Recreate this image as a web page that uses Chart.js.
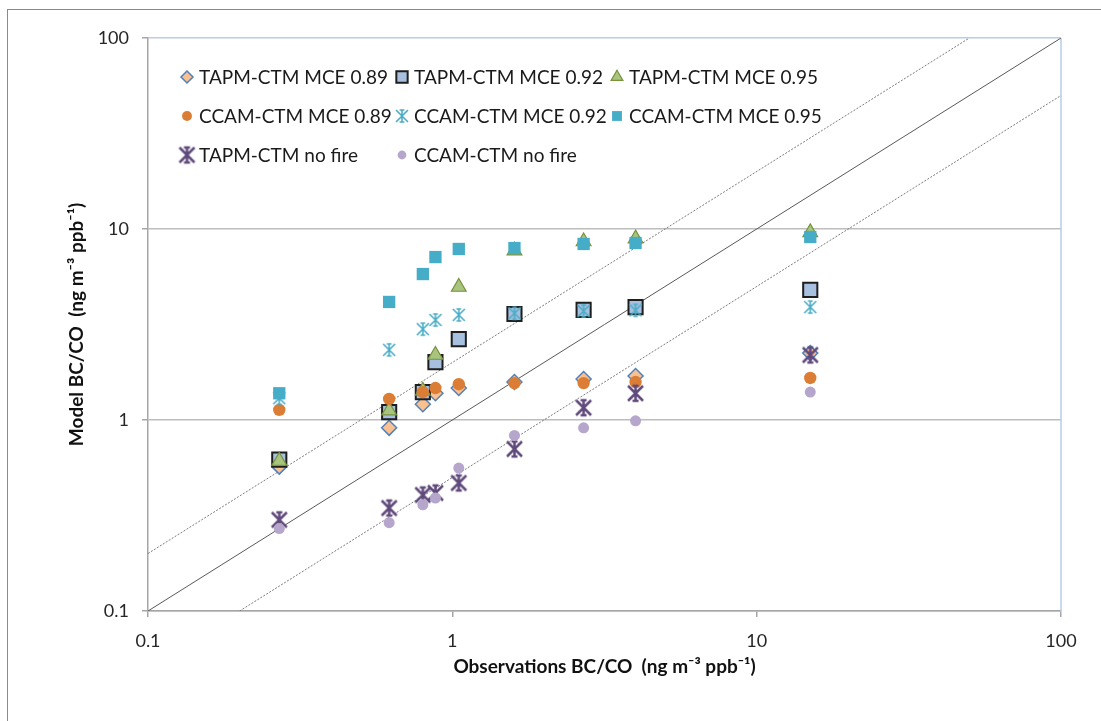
<!DOCTYPE html>
<html>
<head>
<meta charset="utf-8">
<script src="https://cdn.jsdelivr.net/npm/chart.js@4.4.1/dist/chart.umd.min.js"></script>
<style>
  html, body { margin: 0; padding: 0; background: #fff; }
  #wrap { position: relative; width: 1101px; height: 721px; overflow: hidden; }
  #frame { position: absolute; left: 7px; top: 9px; width: 1200px; height: 800px;
           border-left: 1.5px solid #8a8a8a; border-top: 1.5px solid #8a8a8a; }
  #bcChart { position: absolute; left: 0; top: 0; }
</style>
</head>
<body>
<div id="wrap">
  <div id="frame"></div>
  <canvas id="bcChart" width="1101" height="721"></canvas>
</div>
<script>
// observations (x) shared by all series
const obsX = [0.27, 0.62, 0.8, 0.88, 1.05, 1.6, 2.7, 4.0, 15];

// model values
const tapm089 = [0.57, 0.91, 1.21, 1.38, 1.47, 1.58, 1.64, 1.70, 2.24];
const tapm092 = [0.62, 1.10, 1.40, 2.01, 2.65, 3.59, 3.77, 3.90, 4.80];
const tapm095 = [0.61, 1.12, 1.42, 2.19, 4.97, 7.70, 8.60, 8.90, 9.60];
const ccam089 = [1.13, 1.29, 1.40, 1.47, 1.54, 1.56, 1.56, 1.58, 1.66];
const ccam092 = [1.30, 2.33, 2.99, 3.34, 3.55, 3.62, 3.72, 3.75, 3.90];
const ccam095 = [1.38, 4.15, 5.81, 7.13, 7.86, 7.95, 8.35, 8.45, 9.08];
const tapmNoFire = [0.30, 0.346, 0.405, 0.415, 0.468, 0.705, 1.16, 1.38, 2.19];
const ccamNoFire = [0.27, 0.29, 0.36, 0.39, 0.56, 0.83, 0.91, 0.99, 1.40];

const seriesNames = [
  'TAPM-CTM MCE 0.89', 'TAPM-CTM MCE 0.92', 'TAPM-CTM MCE 0.95',
  'CCAM-CTM MCE 0.89', 'CCAM-CTM MCE 0.92', 'CCAM-CTM MCE 0.95',
  'TAPM-CTM no fire', 'CCAM-CTM no fire'
];

// 1:1, 2:1 and 1:2 reference lines (end points)
const lineOneToOne = [[0.1, 0.1], [100, 100]];
const lineTwoToOne = [[0.1, 0.2], [50, 100]];
const lineOneToTwo = [[0.2, 0.1], [100, 50]];

const tickValues = [0.1, 1, 10, 100];
const tickLabels = ['0.1', '1', '10', '100'];

const xTitle = 'Observations BC/CO  (ng m\u207B\u00B3 ppb\u207B\u00B9)';
const yTitle = 'Model BC/CO  (ng m\u207B\u00B3 ppb\u207B\u00B9)';

// Excel style "star" marker: X + vertical bar with caps
function starMarker(size, color, lw) {
  const pad = Math.ceil(lw) + 1;
  const c = document.createElement('canvas');
  c.width = c.height = size + pad * 2;
  const g = c.getContext('2d');
  const m = c.width / 2, h = size / 2;
  g.strokeStyle = color;
  g.lineWidth = lw;
  g.lineCap = 'butt';
  g.beginPath();
  g.moveTo(m - h, m - h); g.lineTo(m + h, m + h);
  g.moveTo(m + h, m - h); g.lineTo(m - h, m + h);
  g.moveTo(m, m - h); g.lineTo(m, m + h);
  g.moveTo(m - h * 0.4, m - h); g.lineTo(m + h * 0.4, m - h);
  g.moveTo(m - h * 0.4, m + h); g.lineTo(m + h * 0.4, m + h);
  g.stroke();
  return c;
}

const toPoints = ys => obsX.map((x, i) => ({ x: x, y: ys[i] }));
const toLine = pts => pts.map(p => ({ x: p[0], y: p[1] }));

const tealStar = starMarker(12, '#4BACC6', 1.6);
const purpleStar = starMarker(15, '#604A7B', 2.5);

const pointSets = [
  { data: tapm089, pointStyle: 'rectRot', radius: 7.5, bg: '#FAC090', border: '#4F81BD', bw: 1.5 },
  { data: tapm092, pointStyle: 'rect', radius: 10, bg: '#A7C0E0', border: '#1E1E1E', bw: 2 },
  { data: tapm095, pointStyle: 'triangle', radius: 8.5, bg: '#A9C47F', border: '#77933C', bw: 1.2 },
  { data: ccam089, pointStyle: 'circle', radius: 6.2, bg: '#DB7D34', border: '#DB7D34', bw: 0 },
  { data: ccam092, pointStyle: tealStar, radius: 7, bg: '#4BACC6', border: '#4BACC6', bw: 0 },
  { data: ccam095, pointStyle: 'rect', radius: 8.7, bg: '#45ADC8', border: '#45ADC8', bw: 0 },
  { data: tapmNoFire, pointStyle: purpleStar, radius: 8, bg: '#604A7B', border: '#604A7B', bw: 0 },
  { data: ccamNoFire, pointStyle: 'circle', radius: 5.5, bg: '#B7A6CC', border: '#B7A6CC', bw: 0 }
];

const datasets = pointSets.map((s, i) => ({
  label: seriesNames[i],
  data: toPoints(s.data),
  showLine: false,
  pointStyle: s.pointStyle,
  pointRadius: s.radius,
  pointHoverRadius: s.radius,
  backgroundColor: s.bg,
  borderColor: s.border,
  pointBorderWidth: s.bw,
  borderWidth: s.bw,
  order: 20 - i,
  legendSlot: i
}));

const refLine = (pts, dash, color) => ({
  label: '',
  data: toLine(pts),
  showLine: true,
  pointRadius: 0,
  borderColor: color,
  borderWidth: 1,
  borderDash: dash,
  fill: false,
  order: 50
});
datasets.push(refLine(lineOneToOne, [], '#595959'));
datasets.push(refLine(lineTwoToOne, [2, 1.5], '#7A7A7A'));
datasets.push(refLine(lineOneToTwo, [2, 1.5], '#7A7A7A'));

const frameLines = {
  id: 'frameLines',
  beforeDatasetsDraw(chart) {
    const { ctx, chartArea } = chart;
    ctx.save();
    ctx.strokeStyle = '#B9CDE5';
    ctx.lineWidth = 1.5;
    ctx.beginPath();
    ctx.moveTo(chartArea.right, chartArea.top);
    ctx.lineTo(chartArea.right, chartArea.bottom);
    ctx.stroke();
    ctx.restore();
  }
};

const insideLegend = {
  id: 'insideLegend',
  afterDatasetsDraw(chart) {
    const { ctx, chartArea } = chart;
    ctx.save();
    ctx.font = '19px Lato';
    ctx.textBaseline = 'middle';
    ctx.textAlign = 'left';
    chart.data.datasets.forEach(ds => {
      if (ds.legendSlot === undefined) return;
      const col = ds.legendSlot % 3;
      const row = Math.floor(ds.legendSlot / 3);
      const x = chartArea.left + 39 + col * 215;
      const y = chartArea.top + 39 + row * 39;
      ctx.fillStyle = ds.backgroundColor;
      ctx.strokeStyle = ds.borderColor;
      ctx.lineWidth = ds.pointBorderWidth;
      Chart.helpers.drawPoint(ctx, {
        pointStyle: ds.pointStyle,
        radius: ds.pointRadius * 0.8,
        rotation: 0,
        borderWidth: ds.pointBorderWidth
      }, x, y);
      ctx.fillStyle = '#1a1a1a';
      ctx.fillText(ds.label, x + 12, y + 1);
    });
    ctx.restore();
  }
};

const tickFont = { family: 'Lato', size: 18 };
const titleFont = { family: 'Lato', size: 19, weight: 'bold' };

new Chart(document.getElementById('bcChart'), {
  type: 'scatter',
  data: { datasets: datasets },
  options: {
    responsive: false,
    devicePixelRatio: 1,
    animation: false,
    layout: { padding: { top: 38, right: 40, bottom: 0, left: 0 } },
    plugins: { legend: { display: false }, tooltip: { enabled: false } },
    scales: {
      x: {
        type: 'logarithmic',
        position: 'bottom',
        min: 0.1,
        max: 100,
        afterBuildTicks: s => { s.ticks = tickValues.map(v => ({ value: v })); },
        afterFit: s => { s.height = 110; },
        grid: { drawOnChartArea: false, drawTicks: true, tickLength: 6, color: '#A6A6A6', lineWidth: 1.5 },
        border: { color: '#A6A6A6', width: 1.5 },
        ticks: {
          autoSkip: false, maxRotation: 0, padding: 13, color: '#262626', font: tickFont,
          callback: v => tickLabels[tickValues.indexOf(v)]
        },
        title: { display: true, text: xTitle, color: '#111', font: titleFont, padding: { top: 0, bottom: 43 } }
      },
      y: {
        type: 'logarithmic',
        position: 'left',
        min: 0.1,
        max: 100,
        afterBuildTicks: s => { s.ticks = tickValues.map(v => ({ value: v })); },
        afterFit: s => { s.width = 148; },
        grid: {
          drawTicks: true, tickLength: 6, lineWidth: 1.5,
          color: c => (c.tick && c.tick.value === 100 ? '#B9CDE5' : '#BDBDBD'),
          tickColor: '#A6A6A6'
        },
        border: { color: '#A6A6A6', width: 1.5 },
        ticks: {
          autoSkip: false, padding: 13, color: '#262626', font: tickFont,
          callback: v => tickLabels[tickValues.indexOf(v)]
        },
        title: { display: true, text: yTitle, color: '#111', font: titleFont, padding: { top: 65, bottom: 0 } }
      }
    }
  },
  plugins: [frameLines, insideLegend]
});
</script>
</body>
</html>
